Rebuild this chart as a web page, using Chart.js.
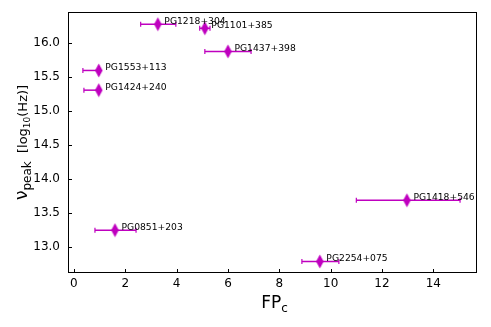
<!DOCTYPE html>
<html><head><meta charset="utf-8">
<script src="https://cdn.jsdelivr.net/npm/chart.js@4/dist/chart.umd.min.js"></script>
<style>html,body{margin:0;padding:0;background:#fff}#wrap{width:491px;height:327px}</style>
</head><body><div id="wrap"><canvas id="c" width="491" height="327"></canvas></div>
<script>
const names = ["PG1218+304","PG1101+385","PG1437+398","PG1553+113","PG1424+240","PG1418+546","PG0851+203","PG2254+075"];
const fpc   = [3.27, 5.10, 6.00, 0.97, 0.97, 12.97, 1.60, 9.58];
const fpcLo = [2.60, 4.90, 5.10, 0.35, 0.39, 11.00, 0.82, 8.88];
const fpcHi = [3.97, 5.30, 6.90, 0.97, 0.97, 15.04, 2.42, 10.32];
const nuPeak = [16.28, 16.22, 15.88, 15.60, 15.31, 13.69, 13.25, 12.79];
const xTicks = [0,2,4,6,8,10,12,14];
const yTicks = [13.0,13.5,14.0,14.5,15.0,15.5,16.0];
const COL = '#bf00bf';

function diamond(){
  const c=document.createElement('canvas'); c.width=9; c.height=15;
  const g=c.getContext('2d'); g.fillStyle=COL;
  g.beginPath(); g.moveTo(4.5,0.5); g.lineTo(8.3,7.5); g.lineTo(4.5,14.5); g.lineTo(0.7,7.5); g.closePath(); g.fill();
  return c;
}

const extras = {
  id:'extras',
  beforeDatasetsDraw(chart){
    const ctx=chart.ctx, xs=chart.scales.x, ys=chart.scales.y;
    ctx.save(); ctx.strokeStyle=COL; ctx.lineWidth=1.5;
    for(let i=0;i<fpc.length;i++){
      const y=ys.getPixelForValue(nuPeak[i]);
      const a=xs.getPixelForValue(fpcLo[i]), b=xs.getPixelForValue(fpcHi[i]);
      ctx.beginPath(); ctx.moveTo(a,y); ctx.lineTo(b,y); ctx.stroke();
      ctx.lineWidth=1.2;
      ctx.beginPath(); ctx.moveTo(a,y-2.5); ctx.lineTo(a,y+2.5); ctx.moveTo(b,y-2.5); ctx.lineTo(b,y+2.5); ctx.stroke();
      ctx.lineWidth=1.5;
    }
    ctx.restore();
  },
  afterDatasetsDraw(chart){
    const ctx=chart.ctx, xs=chart.scales.x, ys=chart.scales.y, ca=chart.chartArea;
    ctx.save();
    ctx.fillStyle='#000'; ctx.font='9.2px "DejaVu Sans"'; ctx.textAlign='left'; ctx.textBaseline='middle';
    for(let i=0;i<fpc.length;i++){
      ctx.fillText(names[i], xs.getPixelForValue(fpc[i])+6.5, ys.getPixelForValue(nuPeak[i])-3);
    }
    ctx.strokeStyle='#000'; ctx.lineWidth=1;
    ctx.strokeRect(ca.left+0.5, ca.top+0.5, ca.right-ca.left-1, ca.bottom-ca.top-1);
    ctx.beginPath();
    xTicks.forEach(v=>{const x=Math.round(xs.getPixelForValue(v))+0.5; ctx.moveTo(x,ca.bottom); ctx.lineTo(x,ca.bottom-4);});
    yTicks.forEach(v=>{const y=Math.round(ys.getPixelForValue(v))+0.5; ctx.moveTo(ca.left,y); ctx.lineTo(ca.left+4,y);});
    ctx.stroke();
    ctx.font='12px "DejaVu Sans"'; ctx.textAlign='center'; ctx.textBaseline='middle';
    xTicks.forEach(v=>ctx.fillText(String(v), xs.getPixelForValue(v), ca.bottom+11));
    ctx.textAlign='right';
    yTicks.forEach(v=>ctx.fillText(v.toFixed(1), ca.left-8, ys.getPixelForValue(v)));
    ctx.textBaseline='alphabetic'; ctx.textAlign='left';
    ctx.font='17px "DejaVu Sans"';
    const w1=ctx.measureText('FP').width;
    ctx.font='12px "DejaVu Sans"';
    const w2=ctx.measureText('c').width;
    let x0=(ca.left+ca.right)/2 - (w1+w2)/2 + 2;
    ctx.font='17px "DejaVu Sans"'; ctx.fillText('FP',x0,308);
    ctx.font='12px "DejaVu Sans"'; ctx.fillText('c',x0+w1,312);
    ctx.translate(27,(ca.top+ca.bottom)/2); ctx.rotate(-Math.PI/2);
    const parts=[['ν','17px',0],['peak','12px',4],['  [log','13px',0],['10','9px',3],['(Hz)]','13px',0]];
    let tw=0; parts.forEach(p=>{ctx.font=p[1]+' "DejaVu Sans"'; tw+=ctx.measureText(p[0]).width;});
    let px=-tw/2;
    parts.forEach(p=>{ctx.font=p[1]+' "DejaVu Sans"'; ctx.fillText(p[0],px,p[2]); px+=ctx.measureText(p[0]).width;});
    ctx.restore();
  }
};

new Chart(document.getElementById('c'),{
  type:'scatter',
  data:{datasets:[{data:fpc.map((v,i)=>({x:v,y:nuPeak[i]})), pointStyle:diamond(), backgroundColor:COL, borderColor:COL}]},
  options:{
    responsive:false, animation:false, devicePixelRatio:1,
    layout:{padding:{top:12,right:14,left:0,bottom:0}},
    plugins:{legend:{display:false},tooltip:{enabled:false}},
    scales:{
      x:{type:'linear',min:-0.23,max:15.7,
        afterBuildTicks(s){s.ticks=xTicks.map(v=>({value:v}));},
        afterFit(s){s.height=54;},
        grid:{display:false}, border:{display:false},
        ticks:{display:false}},
      y:{type:'linear',min:12.62,max:16.46,
        afterBuildTicks(s){s.ticks=yTicks.map(v=>({value:v}));},
        afterFit(s){s.width=68;},
        grid:{display:false}, border:{display:false},
        ticks:{display:false}}
    }
  },
  plugins:[extras]
});
</script></body></html>
